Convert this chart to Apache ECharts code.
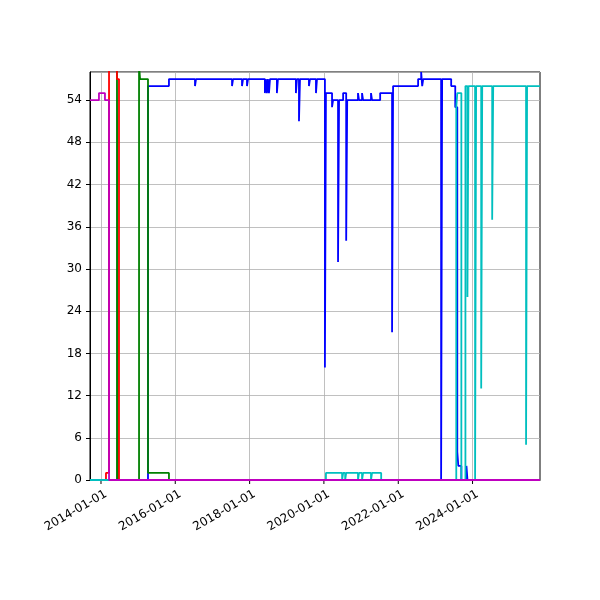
<!DOCTYPE html>
<html><head><meta charset="utf-8">
<script src="https://cdn.jsdelivr.net/npm/echarts@6/dist/echarts.min.js"></script>
<style>html,body{margin:0;padding:0;background:#fff}#c{width:600px;height:600px}</style>
</head><body><div id="c"></div>
<script>
const tickLabels = ['2014-01-01','2016-01-01','2018-01-01','2020-01-01','2022-01-01','2024-01-01'];
const magenta = [['2013-09-15',54],['2013-12-12',55],['2014-02-09',54],['2014-03-21',0],['2025-10-25',0]];
const red = [['2013-09-15',0],['2014-02-19',1],['2014-03-21',59],['2014-06-07',57],['2014-06-27',0],['2025-10-25',0]];
const green = [['2013-09-15',0],['2014-06-07',59],['2014-06-17',0],['2015-01-10',59],['2015-01-20',57],['2015-04-08',1],['2015-10-31',0],['2025-10-25',0]];
const blue = [['2013-09-15',0],['2015-04-08',56],['2015-10-31',57],['2016-07-13',56],['2016-07-23',57],
 ['2017-07-12',56],['2017-07-22',57],['2017-10-18',56],['2017-10-28',57],['2017-12-06',56],['2017-12-16',57],
 ['2018-05-31',55],['2018-06-10',57],['2018-06-20',55],['2018-06-30',57],['2018-07-10',55],['2018-07-20',57],
 ['2018-09-26',55],['2018-10-06',57],['2019-04-01',55],['2019-04-11',57],['2019-05-01',51],['2019-05-11',57],
 ['2019-08-07',56],['2019-08-17',57],['2019-10-15',55],['2019-10-25',57],['2020-01-11',16],['2020-01-21',55],
 ['2020-03-21',53],['2020-03-31',54],['2020-05-19',31],['2020-05-29',54],['2020-07-08',55],['2020-08-07',34],['2020-08-17',54],
 ['2020-12-01',55],['2020-12-11',54],['2021-01-10',55],['2021-01-20',54],['2021-04-08',55],['2021-04-18',54],
 ['2021-07-07',55],['2021-11-01',21],['2021-11-11',56],['2022-07-15',57],['2022-08-14',58],['2022-08-24',56],['2022-09-03',57],
 ['2023-02-26',0],['2023-03-08',57],['2023-06-05',56],['2023-07-15',53],['2023-08-04',4],['2023-08-14',2],['2023-09-13',0],
 ['2023-11-02',2],['2023-11-12',0],['2025-10-25',0]];
const cyan = [['2013-09-15',0],['2020-01-21',1],['2020-06-28',0],['2020-07-08',1],['2020-07-28',0],['2020-08-07',1],
 ['2020-12-01',0],['2020-12-11',1],['2021-01-10',0],['2021-01-20',1],['2021-04-08',0],['2021-04-18',1],['2021-07-17',0],
 ['2023-07-25',53],['2023-08-04',55],['2023-09-13',0],['2023-10-23',56],['2023-11-12',26],['2023-11-22',56],
 ['2024-01-26',0],['2024-02-05',56],['2024-03-26',13],['2024-04-05',56],['2024-07-12',37],['2024-07-22',56],
 ['2025-06-10',5],['2025-06-20',56],['2025-10-25',56]];

const ts = s => new Date(s + 'T00:00:00Z').getTime();
const conv = a => a.map(p => [ts(p[0]), p[1]]);
const tickVals = tickLabels.map(ts);
const mk = (name, color, data, extra) => Object.assign({name, type:'line', step:'end', showSymbol:false, symbol:'none',
  lineStyle:{color, width:1.8}, itemStyle:{color}, data:conv(data), animation:false, clip:true}, extra||{});

const chart = echarts.init(document.getElementById('c'));
chart.setOption({
  animation:false,
  grid:{left:90, right:60, top:72, bottom:120, show:true, borderColor:'#000', borderWidth:1},
  xAxis:{type:'value', min:ts('2013-09-15'), max:ts('2025-10-25'),
    axisLine:{lineStyle:{color:'#000'}},
    axisTick:{show:false}, axisLabel:{show:false}, splitLine:{show:false}},
  yAxis:{type:'value', min:0, max:58, interval:6,
    axisLine:{show:true, lineStyle:{color:'#000'}},
    axisTick:{show:true, length:4, lineStyle:{color:'#000'}},
    axisLabel:{color:'#000', fontSize:12, fontFamily:'DejaVu Sans', showMaxLabel:false},
    splitLine:{lineStyle:{color:'#b0b0b0', width:0.8}}},
  series:[
    mk('blue','#0000ff',blue,{markLine:{silent:true, symbol:'none', label:{show:false},
      lineStyle:{color:'#b0b0b0', width:0.8, type:'solid'}, data:tickVals.map(v=>({xAxis:v})), z:0}}),
    mk('green','#008000',green),
    mk('red','#ff0000',red),
    mk('cyan','#00bfbf',cyan),
    mk('magenta','#bf00bf',magenta)
  ]
});
const els = [];
tickVals.forEach((v, i) => {
  const p = chart.convertToPixel({gridIndex:0}, [v, 0]);
  els.push({type:'line', shape:{x1:p[0], y1:p[1], x2:p[0], y2:p[1]+4}, style:{stroke:'#000', lineWidth:1}});
  els.push({type:'text', x:p[0]+2, y:p[1]+8, rotation:Math.PI/6,
    style:{text:tickLabels[i], fill:'#000', font:'12px "DejaVu Sans"', align:'right', verticalAlign:'top'}});
});
chart.setOption({graphic:els});
</script></body></html>
